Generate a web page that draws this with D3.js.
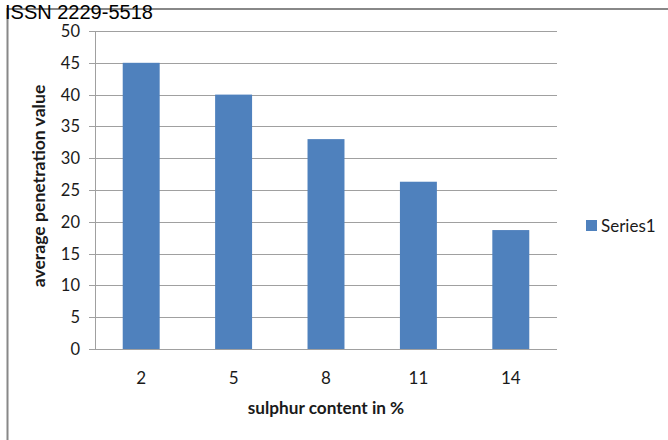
<!DOCTYPE html>
<html>
<head>
<meta charset="utf-8">
<script src="https://cdn.jsdelivr.net/npm/d3@7"></script>
<style>
  html, body { margin: 0; padding: 0; background: #fff; }
  svg { display: block; }
</style>
</head>
<body>
<script>
// Sulphur content (%) against average penetration value
const categories = ["2", "5", "8", "11", "14"];
const series1 = [45, 40, 33, 26.3, 18.7];
const yTicks = [0, 5, 10, 15, 20, 25, 30, 35, 40, 45, 50];
const seriesName = "Series1";

const W = 668, H = 440;
const plot = { left: 95, right: 557, top: 31, bottom: 349 };
const font = "Lato, 'Open Sans', sans-serif";
const barColor = "#4f81bd";
const gridColor = "#a0a0a0";
const textColor = "#1a1a1a";

const svg = d3.select("body").append("svg")
  .attr("width", W).attr("height", H);

// page frame
svg.append("line").attr("x1", 7.5).attr("x2", 7.5).attr("y1", 8).attr("y2", H)
  .attr("stroke", "#888").attr("stroke-width", 2);
svg.append("line").attr("x1", 7).attr("x2", W).attr("y1", 9).attr("y2", 9)
  .attr("stroke", "#888").attr("stroke-width", 2);

svg.append("text").attr("x", 5).attr("y", 18.5)
  .attr("font-family", "'Liberation Sans', Arial, sans-serif")
  .attr("font-size", 20).attr("fill", "#000")
  .text("ISSN 2229-5518");

const x = d3.scaleBand().domain(categories)
  .range([plot.left, plot.right]).paddingInner(0.6).paddingOuter(0.3);
const y = d3.scaleLinear().domain([0, 50]).range([plot.bottom, plot.top]);

// gridlines with outside tick marks
const yAxis = d3.axisLeft(y).tickValues(yTicks)
  .tickSize(-(plot.right - plot.left)).tickSizeOuter(0).tickPadding(0).tickFormat("");
const gy = svg.append("g").attr("transform", `translate(${plot.left},0)`).call(yAxis);
gy.select(".domain").remove();
gy.selectAll(".tick line").attr("stroke", gridColor).attr("x1", -6)
  .attr("shape-rendering", "crispEdges");
svg.append("line").attr("x1", plot.left + 0.5).attr("x2", plot.left + 0.5)
  .attr("y1", plot.top).attr("y2", plot.bottom)
  .attr("stroke", gridColor);

// y tick labels
svg.append("g").selectAll("text").data(yTicks).join("text")
  .attr("x", 80).attr("y", d => y(d)).attr("dy", "0.36em")
  .attr("text-anchor", "end").attr("font-family", font).attr("font-size", 16.5)
  .attr("fill", textColor).text(d => d);

// bars
svg.append("g").selectAll("rect").data(series1).join("rect")
  .attr("x", (d, i) => x(categories[i]))
  .attr("y", d => y(d))
  .attr("width", x.bandwidth())
  .attr("height", d => y(0) - y(d))
  .attr("fill", barColor);

// baseline
svg.append("line").attr("x1", plot.left - 6).attr("x2", plot.right)
  .attr("y1", plot.bottom + 0.5).attr("y2", plot.bottom + 0.5)
  .attr("stroke", gridColor);

// x tick labels
const xAxis = d3.axisBottom(x).tickSize(0).tickPadding(0);
const gx = svg.append("g").attr("transform", `translate(0,${plot.bottom})`).call(xAxis);
gx.select(".domain").remove();
gx.selectAll(".tick text").attr("y", 29).attr("dy", "0.36em")
  .attr("font-family", font).attr("font-size", 17).attr("fill", textColor);

// axis titles
svg.append("text").attr("x", 326).attr("y", 408)
  .attr("dy", "0.36em").attr("text-anchor", "middle")
  .attr("font-family", font).attr("font-size", 17.2).attr("font-weight", "bold")
  .attr("fill", textColor).text("sulphur content in %");

svg.append("text").attr("transform", "translate(39,186) rotate(-90)")
  .attr("dy", "0.36em").attr("text-anchor", "middle")
  .attr("font-family", font).attr("font-size", 17.6).attr("font-weight", "bold")
  .attr("fill", textColor).text("average penetration value");

// legend
const lg = svg.append("g").attr("transform", "translate(586,220)");
lg.append("rect").attr("width", 11).attr("height", 11).attr("fill", barColor);
lg.append("text").attr("x", 15).attr("y", 6).attr("dy", "0.36em")
  .attr("font-family", font).attr("font-size", 17).attr("fill", textColor)
  .text(seriesName);
</script>
</body>
</html>
